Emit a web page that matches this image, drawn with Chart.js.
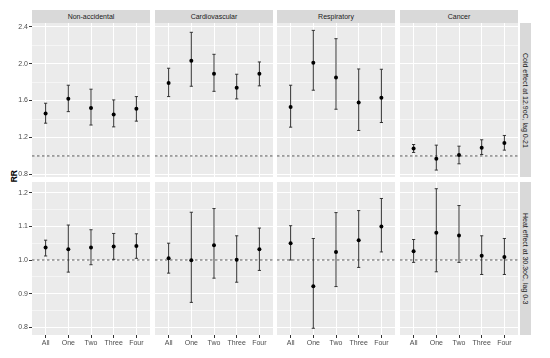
<!DOCTYPE html>
<html>
<head>
<meta charset="utf-8">
<script src="https://cdn.jsdelivr.net/npm/chart.js@4.4.0/dist/chart.umd.min.js"></script>
<style>
  body { margin: 0; background: #fff; width: 550px; height: 358px; position: relative; overflow: hidden;
         font-family: "Liberation Sans", Arial, sans-serif; }
  canvas { position: absolute; }
  .strip { position: absolute; background: #d9d9d9; color: #1a1a1a; font-size: 7px;
           display: flex; align-items: center; justify-content: center; white-space: nowrap; }
  .rstrip { writing-mode: vertical-rl; }
  #rr { position: absolute; font-weight: bold; font-size: 8.5px; color: #000;
        writing-mode: vertical-rl; transform: rotate(180deg); left: 9px; top: 170px; }
</style>
</head>
<body>
<div id="rr">RR</div>
<script>
// categories and facets
const categories = ["All", "One", "Two", "Three", "Four"];
const causes = ["Non-accidental", "Cardiovascular", "Respiratory", "Cancer"];
const effects = ["Cold effect at 12.9oC, lag 0-21", "Heat effect at 30.3oC, lag 0-3"];

// tick labels of the y axis for each row
const coldTicks = [0.8, 1.2, 1.6, 2.0, 2.4];
const heatTicks = [0.8, 0.9, 1.0, 1.1, 1.2];

// cold effect: RR and 95% CI, one row per cause
const coldRR   = [[1.46, 1.62, 1.52, 1.45, 1.51], [1.79, 2.03, 1.89, 1.74, 1.89], [1.53, 2.01, 1.85, 1.58, 1.63], [1.08, 0.97, 1.01, 1.09, 1.14]];
const coldLow  = [[1.355, 1.48, 1.335, 1.315, 1.377], [1.643, 1.755, 1.70, 1.618, 1.759], [1.312, 1.712, 1.506, 1.276, 1.362], [1.038, 0.847, 0.915, 1.016, 1.063]];
const coldHigh = [[1.571, 1.766, 1.723, 1.607, 1.643], [1.95, 2.339, 2.101, 1.885, 2.018], [1.766, 2.36, 2.27, 1.942, 1.939], [1.124, 1.117, 1.106, 1.175, 1.222]];

// heat effect
const heatRR   = [[1.037, 1.032, 1.037, 1.04, 1.042], [1.005, 0.999, 1.044, 1.001, 1.032], [1.05, 0.922, 1.024, 1.059, 1.1], [1.026, 1.081, 1.073, 1.013, 1.009]];
const heatLow  = [[1.012, 0.964, 0.986, 1.002, 1.005], [0.961, 0.874, 0.946, 0.934, 0.969], [1.0, 0.797, 0.921, 0.978, 1.024], [0.993, 0.965, 0.993, 0.957, 0.957]];
const heatHigh = [[1.059, 1.104, 1.09, 1.079, 1.078], [1.05, 1.142, 1.153, 1.072, 1.095], [1.102, 1.064, 1.141, 1.147, 1.183], [1.061, 1.212, 1.162, 1.072, 1.064]];

const refLine = 1;

// layout
const panelLeft = [32, 155, 277, 400];
const panelW = 118;
const rowTop = [23, 182];
const rowH = [154, 153];
const yRange = [[0.772, 2.44], [0.777, 1.232]];

const rows = [
  { rr: coldRR, lo: coldLow, hi: coldHigh, ticks: coldTicks },
  { rr: heatRR, lo: heatLow, hi: heatHigh, ticks: heatTicks }
];

const bgPlugin = {
  id: "panelBg",
  beforeDraw(chart) {
    const a = chart.chartArea, ctx = chart.ctx;
    ctx.save();
    ctx.fillStyle = "#ebebeb";
    ctx.fillRect(a.left, a.top, a.right - a.left, a.bottom - a.top);
    ctx.restore();
  }
};

function addDiv(cls, text, x, y, w, h) {
  const d = document.createElement("div");
  d.className = cls;
  d.textContent = text;
  Object.assign(d.style, { left: x + "px", top: y + "px", width: w + "px", height: h + "px" });
  document.body.appendChild(d);
}

causes.forEach((c, i) => addDiv("strip", c, panelLeft[i], 10, panelW, 13));
effects.forEach((e, r) => addDiv("strip rstrip", e, 520, rowTop[r], 11, rowH[r]));

function makePanel(r, c) {
  const row = rows[r];
  const majors = row.ticks;
  const all = [];
  majors.forEach((v, k) => {
    all.push(v);
    if (k < majors.length - 1) all.push((v + majors[k + 1]) / 2);
  });
  const isMajor = v => majors.some(m => Math.abs(m - v) < 1e-9);

  const cx = c === 0 ? 0 : panelLeft[c];
  const cw = panelLeft[c] + panelW - cx;
  const ch = rowH[r] + (r === 1 ? 24 : 0);
  const cv = document.createElement("canvas");
  cv.width = cw; cv.height = ch;
  Object.assign(cv.style, { left: cx + "px", top: rowTop[r] + "px", width: cw + "px", height: ch + "px" });
  document.body.appendChild(cv);

  const whiskers = [], caps = [], pts = [];
  categories.forEach((cat, i) => {
    whiskers.push({ x: i, y: row.lo[c][i] }, { x: i, y: row.hi[c][i] }, { x: i, y: null });
    caps.push({ x: i, y: row.lo[c][i] }, { x: i, y: row.hi[c][i] });
    pts.push({ x: i, y: row.rr[c][i] });
  });

  new Chart(cv, {
    type: "scatter",
    data: {
      datasets: [
        { data: pts, pointRadius: 2, backgroundColor: "#000", borderWidth: 0, order: 0 },
        { data: caps, pointStyle: "line", pointRadius: 1.6, borderColor: "#333", borderWidth: 1, order: 1 },
        { type: "line", data: whiskers, borderColor: "#333", borderWidth: 1, pointRadius: 0, spanGaps: false, order: 2 },
        { type: "line", data: [{ x: -0.6, y: refLine }, { x: 4.6, y: refLine }], borderColor: "#555",
          borderWidth: 1, borderDash: [2.5, 2.5], pointRadius: 0, order: 3 }
      ]
    },
    options: {
      responsive: false,
      animation: false,
      devicePixelRatio: 1,
      layout: { padding: 0, autoPadding: false },
      plugins: { legend: { display: false }, tooltip: { enabled: false } },
      scales: {
        x: {
          type: "linear", display: true, min: -0.6, max: 4.6,
          afterBuildTicks: s => { s.ticks = categories.map((_, i) => ({ value: i })); },
          afterFit: s => { s.height = r === 1 ? 24 : 0; s.paddingLeft = 0; s.paddingRight = 0; },
          ticks: { display: r === 1, callback: v => categories[v], autoSkip: false, maxRotation: 0,
                   font: { family: "Liberation Sans", size: 7 }, color: "#4d4d4d", padding: 1 },
          grid: { color: "#fff", lineWidth: 1, drawTicks: r === 1, tickLength: 3, tickColor: "#333", tickWidth: 1 },
          border: { display: false }
        },
        y: {
          type: "linear", display: true, min: yRange[r][0], max: yRange[r][1],
          afterBuildTicks: s => { s.ticks = all.map(v => ({ value: v })); },
          afterFit: s => { s.width = c === 0 ? 32 : 0; s.paddingTop = 0; s.paddingBottom = 0; },
          ticks: { display: c === 0, callback: v => isMajor(v) ? v.toFixed(1) : "", autoSkip: false,
                   font: { family: "Liberation Sans", size: 7 }, color: "#4d4d4d", padding: 1 },
          grid: {
            color: "#fff",
            lineWidth: ctx => (ctx.tick && isMajor(ctx.tick.value)) ? 1 : 0.5,
            drawTicks: c === 0, tickLength: 3,
            tickColor: ctx => (ctx.tick && isMajor(ctx.tick.value)) ? "#333" : "rgba(0,0,0,0)",
            tickWidth: 1
          },
          border: { display: false }
        }
      }
    },
    plugins: [bgPlugin]
  });
}

for (let r = 0; r < 2; r++) for (let c = 0; c < 4; c++) makePanel(r, c);
</script>
</body>
</html>
